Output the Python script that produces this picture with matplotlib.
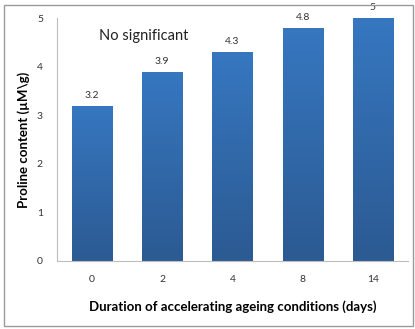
import numpy as np
import matplotlib.pyplot as plt
from matplotlib.colors import LinearSegmentedColormap
from matplotlib.patches import Rectangle

days = ['0', '2', '4', '8', '14']
proline = [3.2, 3.9, 4.3, 4.8, 5.0]
value_labels = ['3.2', '3.9', '4.3', '4.8', '5']

plt.rcParams['font.family'] = ['Lato', 'DejaVu Sans']

fig = plt.figure(figsize=(4.15, 3.29), dpi=100)
ax = fig.add_axes([0.137, 0.207, 0.846, 0.738])

x = np.arange(len(days))
bars = ax.bar(x, proline, width=0.57, color='#3470b4', edgecolor='#6f9ad0', linewidth=0.6, zorder=2)

# vertical gradient inside every bar
grad = LinearSegmentedColormap.from_list('bar', ['#2c5a92', '#3677c0'])
g = np.linspace(0, 1, 256).reshape(-1, 1)
for b in bars:
    x0, w, h = b.get_x(), b.get_width(), b.get_height()
    im = ax.imshow(g, cmap=grad, origin='lower', aspect='auto',
                   extent=[x0, x0 + w, 0, h], zorder=2.5)
    im.set_clip_path(b)

for xi, v, s in zip(x, proline, value_labels):
    ax.text(xi, v + 0.12, s, ha='center', va='bottom', fontsize=7.5, color='#333333')

ax.text(0.1, 4.55, 'No significant', fontsize=10.5, color='#222222')

ax.set_xlim(-0.5, len(days) - 0.5)
ax.set_ylim(0, 5)
ax.set_xticks(x)
ax.set_xticklabels(days)
ax.set_yticks([0, 1, 2, 3, 4, 5])
ax.tick_params(length=0, labelsize=7.5, colors='#333333')
ax.tick_params(axis='x', pad=10)
ax.tick_params(axis='y', pad=10)
for side in ['top', 'right']:
    ax.spines[side].set_visible(False)
for side in ['left', 'bottom']:
    ax.spines[side].set_color('#bdbdbd')
    ax.spines[side].set_linewidth(0.8)

ax.set_ylabel('Proline content (µM\\g)', fontsize=9.5, fontweight='bold', labelpad=5)
ax.set_xlabel('Duration of accelerating ageing conditions (days)', fontsize=9.5,
              fontweight='bold', labelpad=12)

# outer frame
fig.patches.append(Rectangle((4 / 415, 1 - 326 / 329), 409 / 415, 321 / 329,
                             transform=fig.transFigure, fill=False,
                             edgecolor='#9a9a9a', linewidth=1.0))

fig.savefig('out.png', dpi=100)
